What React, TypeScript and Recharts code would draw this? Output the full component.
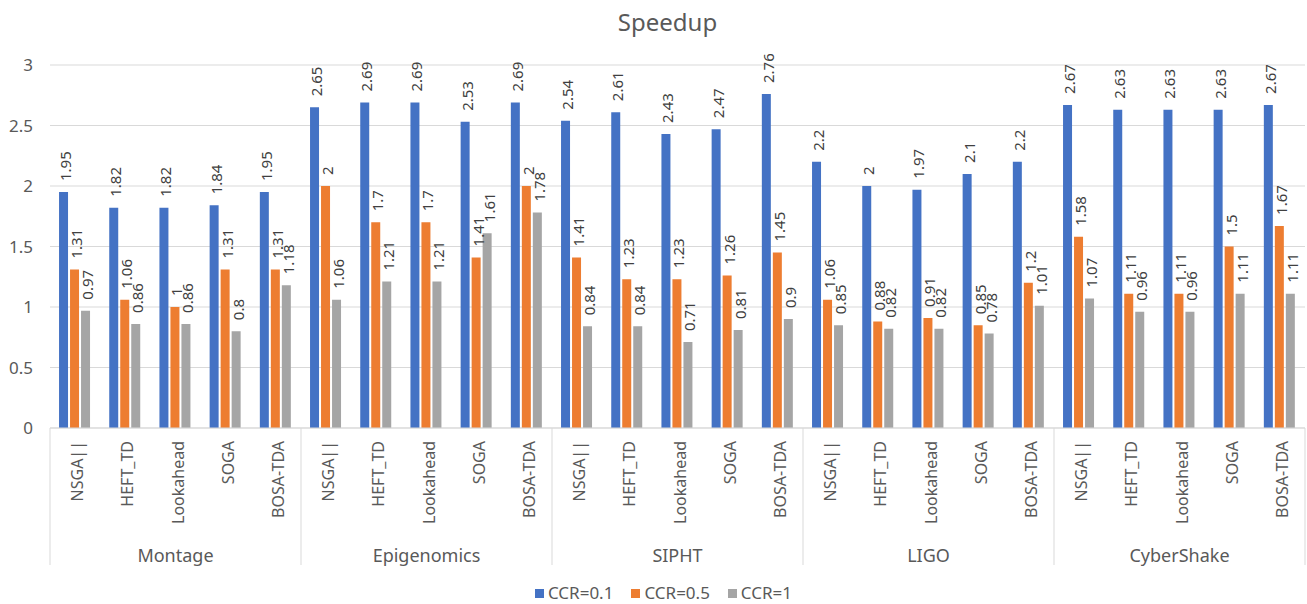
import React from 'react';
import { BarChart, Bar, XAxis, YAxis, CartesianGrid, Legend, LabelList } from 'recharts';

// Workflows (outer category level) and scheduling algorithms (inner level)
const workflows = ['Montage', 'Epigenomics', 'SIPHT', 'LIGO', 'CyberShake'];
const algorithms = ['NSGA||', 'HEFT_TD', 'Lookahead', 'SOGA', 'BOSA-TDA'];

// Speedup per workflow x algorithm, in the order above
const ccr01 = [
  1.95, 1.82, 1.82, 1.84, 1.95,
  2.65, 2.69, 2.69, 2.53, 2.69,
  2.54, 2.61, 2.43, 2.47, 2.76,
  2.2, 2, 1.97, 2.1, 2.2,
  2.67, 2.63, 2.63, 2.63, 2.67,
];
const ccr05 = [
  1.31, 1.06, 1, 1.31, 1.31,
  2, 1.7, 1.7, 1.41, 2,
  1.41, 1.23, 1.23, 1.26, 1.45,
  1.06, 0.88, 0.91, 0.85, 1.2,
  1.58, 1.11, 1.11, 1.5, 1.67,
];
const ccr1 = [
  0.97, 0.86, 0.86, 0.8, 1.18,
  1.06, 1.21, 1.21, 1.61, 1.78,
  0.84, 0.84, 0.71, 0.81, 0.9,
  0.85, 0.82, 0.82, 0.78, 1.01,
  1.07, 0.96, 0.96, 1.11, 1.11,
];

const seriesNames = ['CCR=0.1', 'CCR=0.5', 'CCR=1'];
const seriesColors = ['#4472C4', '#ED7D31', '#A5A5A5'];
const yTicks = [0, 0.5, 1, 1.5, 2, 2.5, 3];

const data = workflows.flatMap((w, wi) =>
  algorithms.map((a, ai) => {
    const i = wi * algorithms.length + ai;
    return { key: `${w}-${a}`, workflow: w, algorithm: a, c01: ccr01[i], c05: ccr05[i], c1: ccr1[i] };
  })
);

const W = 1307;
const H = 604;
const MARGIN = { top: 65, right: 2, bottom: 4, left: 0 };
const Y_AXIS_W = 50;
const BAND = (W - MARGIN.left - MARGIN.right - Y_AXIS_W) / data.length;
const FONT = '"Noto Sans", "Open Sans", sans-serif';
const GRID = '#D9D9D9';
const TEXT = '#595959';

// Two-level category axis: algorithm name, plus workflow name and separators
function CategoryTick(props: any) {
  const { x, y, payload } = props;
  const idx: number = payload.index;
  const row = data[idx];
  const ai = idx % algorithms.length;
  const left = x - BAND / 2;
  const right = x + BAND / 2;
  return (
    <g>
      <text
        transform={`translate(${x + 2},${y + 13}) rotate(-90)`}
        textAnchor="end"
        dominantBaseline="central"
        fontSize={16}
        fontFamily={FONT}
        fill={TEXT}
      >
        {row.algorithm}
      </text>
      {ai === 0 && <line x1={left} x2={left} y1={y} y2={y + 137} stroke={GRID} strokeWidth={1} />}
      {idx === data.length - 1 && <line x1={right} x2={right} y1={y} y2={y + 137} stroke={GRID} strokeWidth={1} />}
      {ai === 2 && (
        <text x={x} y={y + 127} textAnchor="middle" dominantBaseline="central" fontSize={18} fontFamily={FONT} fill={TEXT}>
          {row.workflow}
        </text>
      )}
    </g>
  );
}

// Rotated value label above each bar
function ValueLabel(props: any) {
  const { x, y, width, value } = props;
  const cx = Number(x) + Number(width) / 2 + 1.5;
  const by = Number(y) - 11;
  return (
    <text
      transform={`translate(${cx},${by}) rotate(-90)`}
      textAnchor="start"
      dominantBaseline="central"
      fontSize={15}
      fontFamily={FONT}
      fill="#404040"
    >
      {value}
    </text>
  );
}

function LegendContent() {
  return (
    <div
      style={{
        height: 28,
        display: 'flex',
        alignItems: 'flex-end',
        justifyContent: 'center',
        paddingLeft: 22,
        fontFamily: FONT,
        fontSize: 17,
        color: TEXT,
      }}
    >
      {seriesNames.map((name, i) => (
        <div
          key={name}
          style={{ display: 'flex', alignItems: 'center', marginRight: i < seriesNames.length - 1 ? 18 : 0, position: 'relative', top: 3, lineHeight: '20px' }}
        >
          <span style={{ width: 9, height: 9, background: seriesColors[i], display: 'inline-block', marginRight: 4 }} />
          <span>{name}</span>
        </div>
      ))}
    </div>
  );
}

export default function App() {
  return (
    <div style={{ position: 'absolute', left: 0, top: 0, width: W, height: H, background: '#fff' }}>
      <div
        style={{
          position: 'absolute',
          left: 14,
          top: 6,
          width: W,
          textAlign: 'center',
          fontFamily: FONT,
          fontSize: 24,
          lineHeight: '32px',
          color: TEXT,
        }}
      >
        Speedup
      </div>
      <BarChart width={W} height={H} data={data} margin={MARGIN} barCategoryGap="18%" barGap={2}>
        <CartesianGrid vertical={false} stroke={GRID} strokeWidth={1} />
        <XAxis
          dataKey="key"
          interval={0}
          tickLine={false}
          tickSize={0}
          tickMargin={0}
          axisLine={{ stroke: GRID }}
          height={144}
          tick={<CategoryTick />}
        />
        <YAxis
          domain={[0, 3]}
          ticks={yTicks}
          width={Y_AXIS_W}
          axisLine={false}
          tickLine={false}
          tickMargin={11}
          tick={{ fill: TEXT, fontSize: 17, fontFamily: FONT }}
        />
        <Legend verticalAlign="bottom" height={28} content={<LegendContent />} />
        <Bar dataKey="c01" name={seriesNames[0]} fill={seriesColors[0]} isAnimationActive={false}>
          <LabelList dataKey="c01" content={<ValueLabel />} />
        </Bar>
        <Bar dataKey="c05" name={seriesNames[1]} fill={seriesColors[1]} isAnimationActive={false}>
          <LabelList dataKey="c05" content={<ValueLabel />} />
        </Bar>
        <Bar dataKey="c1" name={seriesNames[2]} fill={seriesColors[2]} isAnimationActive={false}>
          <LabelList dataKey="c1" content={<ValueLabel />} />
        </Bar>
      </BarChart>
    </div>
  );
}
